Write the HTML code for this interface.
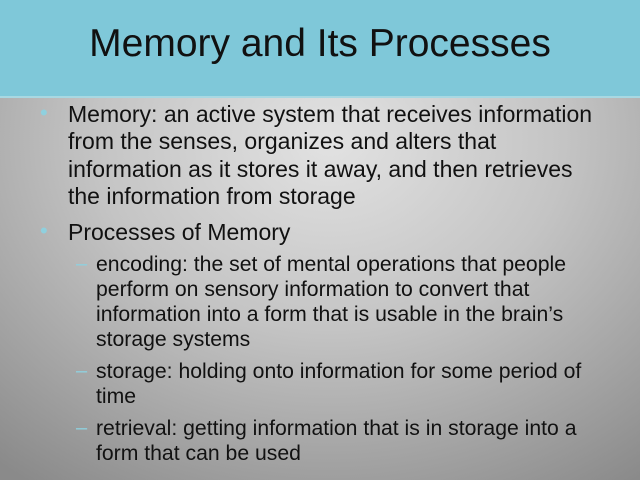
<!DOCTYPE html>
<html><head><style>
body{margin:0;width:640px;height:480px;overflow:hidden;position:relative;font-family:"Liberation Sans",Arial,sans-serif;
background:radial-gradient(ellipse 520px 420px at 330px 140px,#e2e2e2 0%,#c4c4c4 45%,#9a9a9a 85%,#8a8a8a 100%);}
.h{position:absolute;left:0;top:0;width:640px;height:96px;background:#7fc8d9;border-bottom:2px solid #a8d8e2;}
.t{position:absolute;left:0;width:640px;top:22px;text-align:center;font-size:39px;color:#111;}
.l{position:absolute;white-space:nowrap;color:#111;}
.a{left:68px;font-size:23px;}
.b{left:96px;font-size:21.2px;}
.d{position:absolute;color:#8fd0de;}
</style></head><body>
<div class="h"></div><div class="t">Memory and Its Processes</div>
<div class="d" style="left:40px;top:100px;font-size:22px">•</div>
<div class="l a" style="top:101px">Memory: an active system that receives information</div>
<div class="l a" style="top:128px">from the senses, organizes and alters that</div>
<div class="l a" style="top:156px">information as it stores it away, and then retrieves</div>
<div class="l a" style="top:183px">the information from storage</div>
<div class="d" style="left:40px;top:218px;font-size:22px">•</div>
<div class="l a" style="top:219px">Processes of Memory</div>
<div class="d" style="left:76px;top:253px;font-size:20px">–</div>
<div class="l b" style="top:253px">encoding: the set of mental operations that people</div>
<div class="l b" style="top:278px">perform on sensory information to convert that</div>
<div class="l b" style="top:303px">information into a form that is usable in the brain’s</div>
<div class="l b" style="top:328px">storage systems</div>
<div class="d" style="left:76px;top:360px;font-size:20px">–</div>
<div class="l b" style="top:360px">storage: holding onto information for some period of</div>
<div class="l b" style="top:385px">time</div>
<div class="d" style="left:76px;top:417px;font-size:20px">–</div>
<div class="l b" style="top:417px">retrieval: getting information that is in storage into a</div>
<div class="l b" style="top:442px">form that can be used</div>
</body></html>
